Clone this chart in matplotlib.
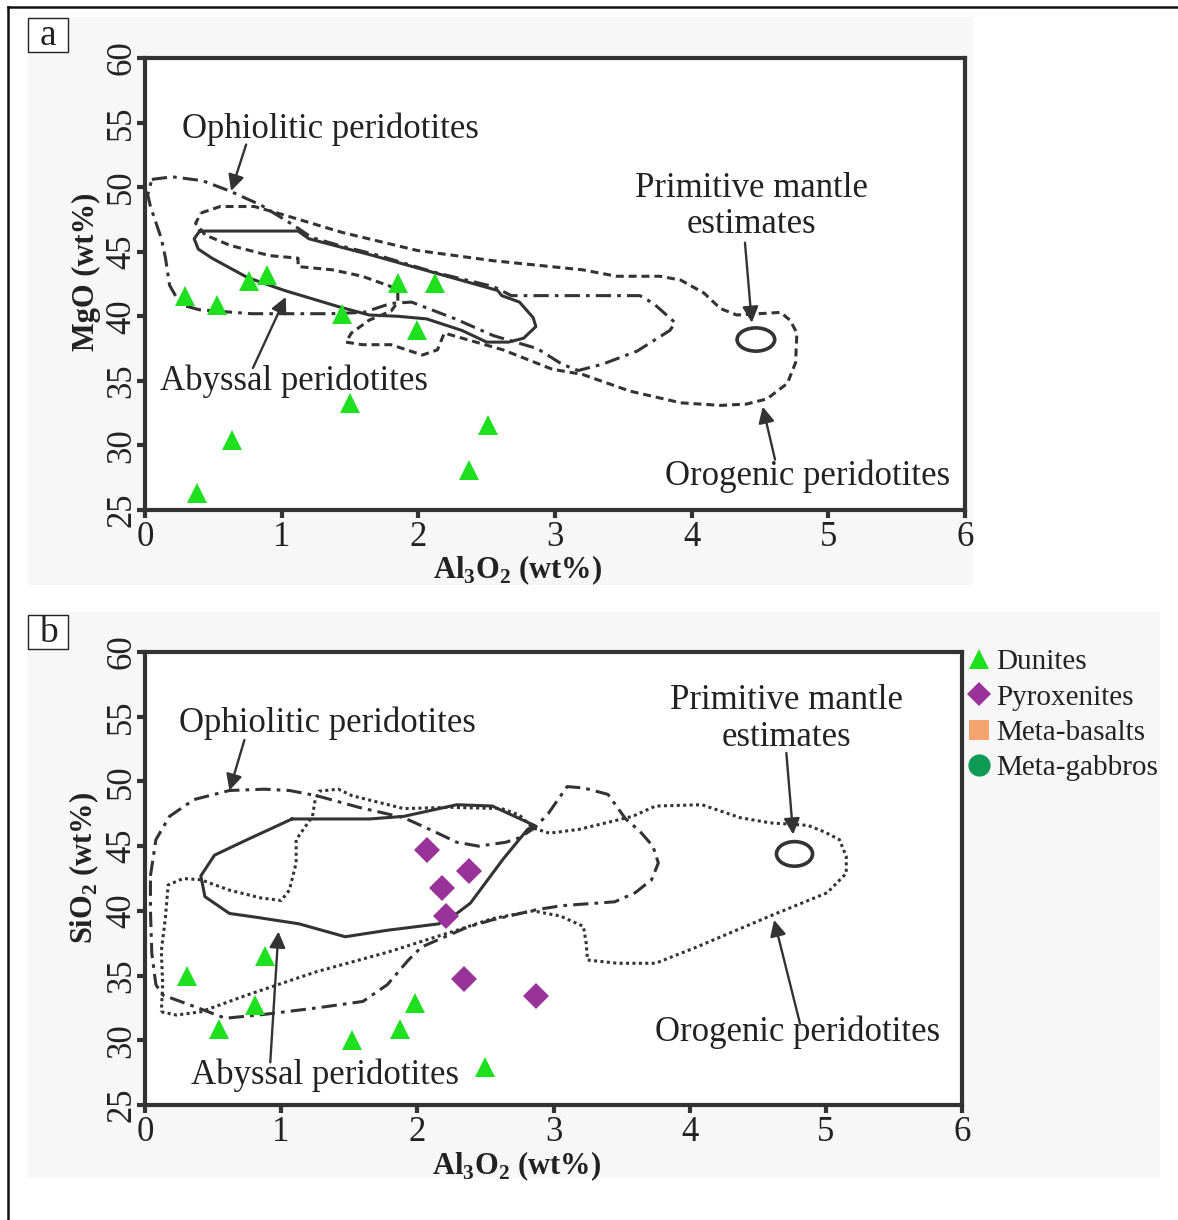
import matplotlib
matplotlib.use("Agg")
import matplotlib.pyplot as plt
from matplotlib.patches import Ellipse, Rectangle
from matplotlib.lines import Line2D

plt.rcParams['font.family'] = ['Liberation Serif', 'DejaVu Serif']
plt.rcParams['mathtext.fontset'] = 'custom'
plt.rcParams['mathtext.rm'] = 'Liberation Serif'
plt.rcParams['mathtext.bf'] = 'Liberation Serif:bold'

# ---------------------------------------------------------------- data
# Panel a: MgO vs Al2O3
a_dun_x = [0.29, 0.53, 0.76, 0.89, 1.44, 1.85, 2.12, 1.99, 1.50, 2.51, 2.37, 0.64, 0.38]
a_dun_y = [41.6, 40.9, 42.7, 43.2, 40.2, 42.6, 42.6, 38.9, 33.3, 31.6, 28.1, 30.4, 26.3]

# Panel b: SiO2 vs Al2O3
b_dun_x = [0.31, 0.54, 0.81, 0.88, 1.52, 1.87, 1.98, 2.50]
b_dun_y = [35.0, 30.9, 32.7, 36.5, 30.0, 30.9, 32.9, 27.9]
b_pyx_x = [2.07, 2.38, 2.18, 2.21, 2.34, 2.87]
b_pyx_y = [44.7, 43.1, 41.8, 39.6, 34.7, 33.4]

# Reference fields (Al2O3, oxide) outlines
a_ophiolitic = [(0.05, 50.6), (0.20, 50.8), (0.42, 50.5), (0.62, 49.7), (0.85, 48.6),
                (1.08, 47.1), (1.22, 46.1), (1.45, 45.4), (1.68, 44.8), (2.12, 43.4),
                (2.55, 42.3), (2.68, 41.6), (3.00, 41.6), (3.62, 41.6), (3.72, 41.0),
                (3.88, 39.5), (3.84, 38.9), (3.60, 37.3), (3.35, 36.3), (3.17, 35.8),
                (3.05, 36.3), (2.87, 37.5), (2.55, 38.5), (2.27, 39.8), (1.95, 41.1),
                (1.80, 41.0), (1.60, 40.3), (1.36, 40.2), (0.78, 40.2), (0.40, 40.5),
                (0.26, 40.9), (0.18, 42.4), (0.15, 44.5), (0.12, 46.0), (0.04, 48.5),
                (0.02, 49.4)]
a_orogenic = [(0.41, 48.0), (0.55, 48.5), (0.80, 48.5), (1.00, 47.9), (1.44, 46.5),
              (1.99, 45.1), (2.55, 44.3), (3.20, 43.6), (3.45, 43.1), (3.77, 43.1),
              (3.92, 42.8), (4.09, 41.8), (4.21, 40.6), (4.33, 40.1), (4.65, 40.3),
              (4.72, 39.7), (4.77, 38.7), (4.76, 36.4), (4.70, 34.8), (4.55, 33.6),
              (4.40, 33.2), (4.21, 33.1), (3.92, 33.3), (3.55, 34.2), (3.20, 35.5),
              (2.98, 35.9), (2.62, 37.4), (2.19, 38.7), (2.14, 37.4), (2.03, 37.0),
              (1.80, 37.8), (1.59, 37.8), (1.47, 38.0), (1.51, 38.7), (1.64, 39.7),
              (1.80, 40.4), (1.85, 41.1), (1.85, 41.9), (1.80, 42.3), (1.59, 43.1),
              (1.37, 43.6), (1.12, 43.85), (1.12, 44.5), (0.91, 44.7), (0.62, 45.5),
              (0.44, 46.3), (0.37, 47.2)]
a_abyssal = [(0.40, 46.6), (1.12, 46.6), (1.20, 46.0), (1.67, 44.7), (2.58, 42.0),
             (2.61, 41.6), (2.74, 41.1), (2.84, 39.9), (2.86, 39.2), (2.77, 38.3),
             (2.66, 38.0), (2.50, 38.0), (2.32, 38.9), (2.06, 39.8), (1.85, 40.0),
             (1.64, 40.1), (1.43, 40.7), (1.02, 42.0), (0.75, 43.0), (0.49, 44.5),
             (0.39, 45.2), (0.36, 46.0)]
a_primitive = (4.47, 38.2, 0.275, 1.8)   # centre x, centre y, width, height

b_ophiolitic = [(0.04, 42.7), (0.08, 45.5), (0.18, 47.3), (0.36, 48.6), (0.62, 49.3),
                (0.875, 49.4), (1.06, 49.3), (1.26, 48.9), (1.57, 48.0), (1.90, 47.2),
                (2.11, 46.2), (2.29, 45.3), (2.45, 45.0), (2.65, 45.3), (2.75, 45.65),
                (2.86, 46.4), (2.96, 47.5), (3.10, 49.6), (3.22, 49.5), (3.40, 49.0),
                (3.53, 47.1), (3.63, 46.2), (3.73, 45.0), (3.77, 43.7), (3.72, 42.4),
                (3.60, 41.4), (3.45, 40.7), (3.06, 40.4), (2.88, 40.1), (2.55, 39.3),
                (2.37, 38.75), (2.16, 37.8), (2.03, 37.2), (1.93, 36.15), (1.78, 34.3),
                (1.60, 33.0), (1.26, 32.5), (0.875, 32.0), (0.59, 31.7), (0.39, 32.5),
                (0.13, 33.5), (0.08, 34.3), (0.05, 36.7), (0.04, 40.0)]
b_orogenic = [(0.12, 32.2), (0.23, 31.95), (0.41, 32.2), (0.75, 33.5), (1.26, 35.3),
              (1.78, 36.8), (2.29, 38.5), (2.55, 39.4), (2.85, 40.0), (3.05, 39.6),
              (3.22, 38.8), (3.24, 37.5), (3.25, 36.2), (3.47, 35.95), (3.75, 35.95),
              (4.05, 37.2), (4.59, 39.6), (5.01, 41.4), (5.15, 42.9), (5.15, 44.2),
              (5.10, 45.5), (4.99, 46.1), (4.87, 46.6), (4.59, 46.8), (4.37, 47.2),
              (4.09, 48.2), (3.75, 48.1), (3.58, 47.3), (3.19, 46.3), (2.97, 46.0),
              (2.85, 46.4), (2.75, 47.4), (2.62, 47.9), (2.24, 48.0), (1.90, 47.9),
              (1.52, 48.9), (1.42, 49.4), (1.28, 49.25), (1.25, 48.6), (1.23, 47.3),
              (1.11, 45.5), (1.11, 43.7), (1.06, 41.6), (1.00, 40.8), (0.85, 41.0),
              (0.62, 41.6), (0.41, 42.4), (0.28, 42.5), (0.17, 42.0), (0.15, 39.5),
              (0.12, 36.9), (0.13, 34.3)]
b_abyssal = [(1.08, 47.1), (1.65, 47.1), (1.90, 47.3), (2.29, 48.2), (2.55, 48.1),
             (2.86, 46.6), (2.81, 46.3), (2.63, 44.0), (2.39, 40.6), (2.29, 39.8),
             (2.21, 39.5), (2.16, 39.0), (1.78, 38.5), (1.47, 38.0), (1.13, 39.0),
             (0.82, 39.5), (0.62, 39.8), (0.44, 41.1), (0.41, 42.7), (0.51, 44.3),
             (0.75, 45.5)]
b_primitive = (4.77, 44.4, 0.265, 1.9)

legend_labels = ['Dunites', 'Pyroxenites', 'Meta-basalts', 'Meta-gabbros']
x_ticks = [0, 1, 2, 3, 4, 5, 6]
y_ticks = [25, 30, 35, 40, 45, 50, 55, 60]

# ---------------------------------------------------------------- style
INK = '#333333'
GREEN_TRI = '#1fe01f'
PURPLE = '#9a3399'
ORANGE = '#f5a470'
DKGREEN = '#0f9a55'
LS_OPHI = (0, (5.0, 2.0, 1.2, 2.0))
LS_DASH = (0, (2.6, 1.6))
LS_DOT = (0, (1.0, 1.1))

W, H = 1178, 1220
fig = plt.figure(figsize=(W / 100, H / 100), dpi=100)
fig.patch.set_facecolor('white')

# light panel backgrounds and outer frame lines
fig.add_artist(Rectangle((28 / W, 1 - 585 / H), (973 - 28) / W, (585 - 17) / H,
                         transform=fig.transFigure, facecolor='#f7f7f7',
                         edgecolor='none', zorder=0))
fig.add_artist(Rectangle((28 / W, 1 - 1178 / H), (1160 - 28) / W, (1178 - 612) / H,
                         transform=fig.transFigure, facecolor='#f7f7f7',
                         edgecolor='none', zorder=0))
fig.add_artist(Line2D([8 / W, 1], [1 - 7 / H, 1 - 7 / H], transform=fig.transFigure,
                      color='#111111', lw=1.8))
fig.add_artist(Line2D([8 / W, 8 / W], [0, 1 - 7 / H], transform=fig.transFigure,
                      color='#111111', lw=1.8))


def panel_tag(letter, x0, y0):
    fig.add_artist(Rectangle((x0 / W, 1 - (y0 + 34) / H), 40 / W, 34 / H,
                             transform=fig.transFigure, facecolor='white',
                             edgecolor='#222222', lw=1.0, zorder=3))
    fig.text((x0 + 20) / W, 1 - (y0 + 18) / H, letter, fontsize=27,
             ha='center', va='center', color='#222222', zorder=4)


def style_axes(ax, ylabel, ylab_y):
    ax.set_xlim(0, 6)
    ax.set_ylim(25, 60)
    ax.set_xticks(x_ticks)
    ax.set_yticks(y_ticks)
    ax.set_facecolor('white')
    for s in ax.spines.values():
        s.set_linewidth(3.0)
        s.set_color(INK)
    ax.tick_params(direction='out', length=6, width=3.0, color=INK,
                   labelsize=25, labelcolor='#222222')
    ax.tick_params(axis='x', pad=2)
    ax.tick_params(axis='y', labelrotation=90, pad=-1)
    for lab in ax.get_yticklabels():
        lab.set_va('center')
    ax.set_xlabel(r'Al$_\mathbf{3}$O$_\mathbf{2}$ (wt%)', fontsize=22,
                  fontweight='bold', color='#222222')
    ax.xaxis.set_label_coords(0.455, -0.097)
    ax.set_ylabel(ylabel, fontsize=22, fontweight='bold', color='#222222')
    ax.yaxis.set_label_coords(-0.054, ylab_y)


def outline(ax, pts, ls):
    xs = [p[0] for p in pts] + [pts[0][0]]
    ys = [p[1] for p in pts] + [pts[0][1]]
    ax.plot(xs, ys, color=INK, lw=2.2, ls=ls, solid_joinstyle='round',
            dash_joinstyle='round', zorder=2)


def primitive(ax, e):
    ax.add_patch(Ellipse((e[0], e[1]), e[2], e[3], facecolor='none',
                         edgecolor=INK, lw=2.6, zorder=2))


def label(ax, x, y, s):
    ax.text(x, y, s, fontsize=25, ha='center', va='center', color='#222222',
            linespacing=1.15, zorder=5)


def arrow(ax, start, tip):
    ax.annotate('', xy=tip, xytext=start,
                arrowprops=dict(arrowstyle='-|>', color=INK, lw=1.7,
                                mutation_scale=24, shrinkA=0, shrinkB=0),
                zorder=5)


# ---------------------------------------------------------------- panel a
ax_a = fig.add_axes([145 / W, 1 - 510 / H, (965 - 145) / W, (510 - 58) / H])
style_axes(ax_a, 'MgO (wt%)', 0.527)
outline(ax_a, a_ophiolitic, LS_OPHI)
outline(ax_a, a_orogenic, LS_DASH)
outline(ax_a, a_abyssal, '-')
primitive(ax_a, a_primitive)
ax_a.plot(a_dun_x, a_dun_y, ls='none', marker='^', ms=15, color=GREEN_TRI,
          markeredgewidth=0, zorder=4)

label(ax_a, 1.36, 54.5, 'Ophiolitic peridotites')
arrow(ax_a, (0.74, 53.3), (0.63, 49.7))
label(ax_a, 1.09, 35.0, 'Abyssal peridotites')
arrow(ax_a, (0.79, 36.0), (1.03, 41.5))
label(ax_a, 4.44, 48.5, 'Primitive mantle\nestimates')
arrow(ax_a, (4.39, 45.7), (4.44, 39.5))
label(ax_a, 4.85, 27.6, 'Orogenic peridotites')
arrow(ax_a, (4.61, 28.9), (4.52, 33.0))
panel_tag('a', 28, 18)

# ---------------------------------------------------------------- panel b
ax_b = fig.add_axes([145 / W, 1 - 1105 / H, (962 - 145) / W, (1105 - 652) / H])
style_axes(ax_b, r'SiO$_\mathbf{2}$ (wt%)', 0.523)
outline(ax_b, b_ophiolitic, LS_OPHI)
outline(ax_b, b_orogenic, LS_DOT)
outline(ax_b, b_abyssal, '-')
primitive(ax_b, b_primitive)
ax_b.plot(b_dun_x, b_dun_y, ls='none', marker='^', ms=15, color=GREEN_TRI,
          markeredgewidth=0, zorder=4)
ax_b.plot(b_pyx_x, b_pyx_y, ls='none', marker='D', ms=13, color=PURPLE,
          markeredgewidth=0, zorder=4)

label(ax_b, 1.34, 54.5, 'Ophiolitic peridotites')
arrow(ax_b, (0.73, 53.2), (0.62, 49.3))
label(ax_b, 1.32, 27.3, 'Abyssal peridotites')
arrow(ax_b, (0.92, 28.3), (0.98, 38.4))
label(ax_b, 4.71, 54.8, 'Primitive mantle\nestimates')
arrow(ax_b, (4.71, 52.2), (4.76, 45.9))
label(ax_b, 4.79, 30.6, 'Orogenic peridotites')
arrow(ax_b, (4.81, 31.3), (4.62, 39.3))
panel_tag('b', 28, 615)

handles = [
    Line2D([], [], ls='none', marker='^', ms=15, color=GREEN_TRI, markeredgewidth=0),
    Line2D([], [], ls='none', marker='D', ms=12, color=PURPLE, markeredgewidth=0),
    Line2D([], [], ls='none', marker='s', ms=15, color=ORANGE, markeredgewidth=0),
    Line2D([], [], ls='none', marker='o', ms=16, color=DKGREEN, markeredgewidth=0),
]
fig.legend(handles, legend_labels, loc='upper left',
           bbox_to_anchor=(966 / W, 1 - 649 / H), frameon=False, fontsize=21,
           handlelength=0.9, handletextpad=0.15, labelspacing=0.3,
           borderpad=0, borderaxespad=0, labelcolor='#222222')

fig.savefig('out.png', dpi=100, facecolor='white')
